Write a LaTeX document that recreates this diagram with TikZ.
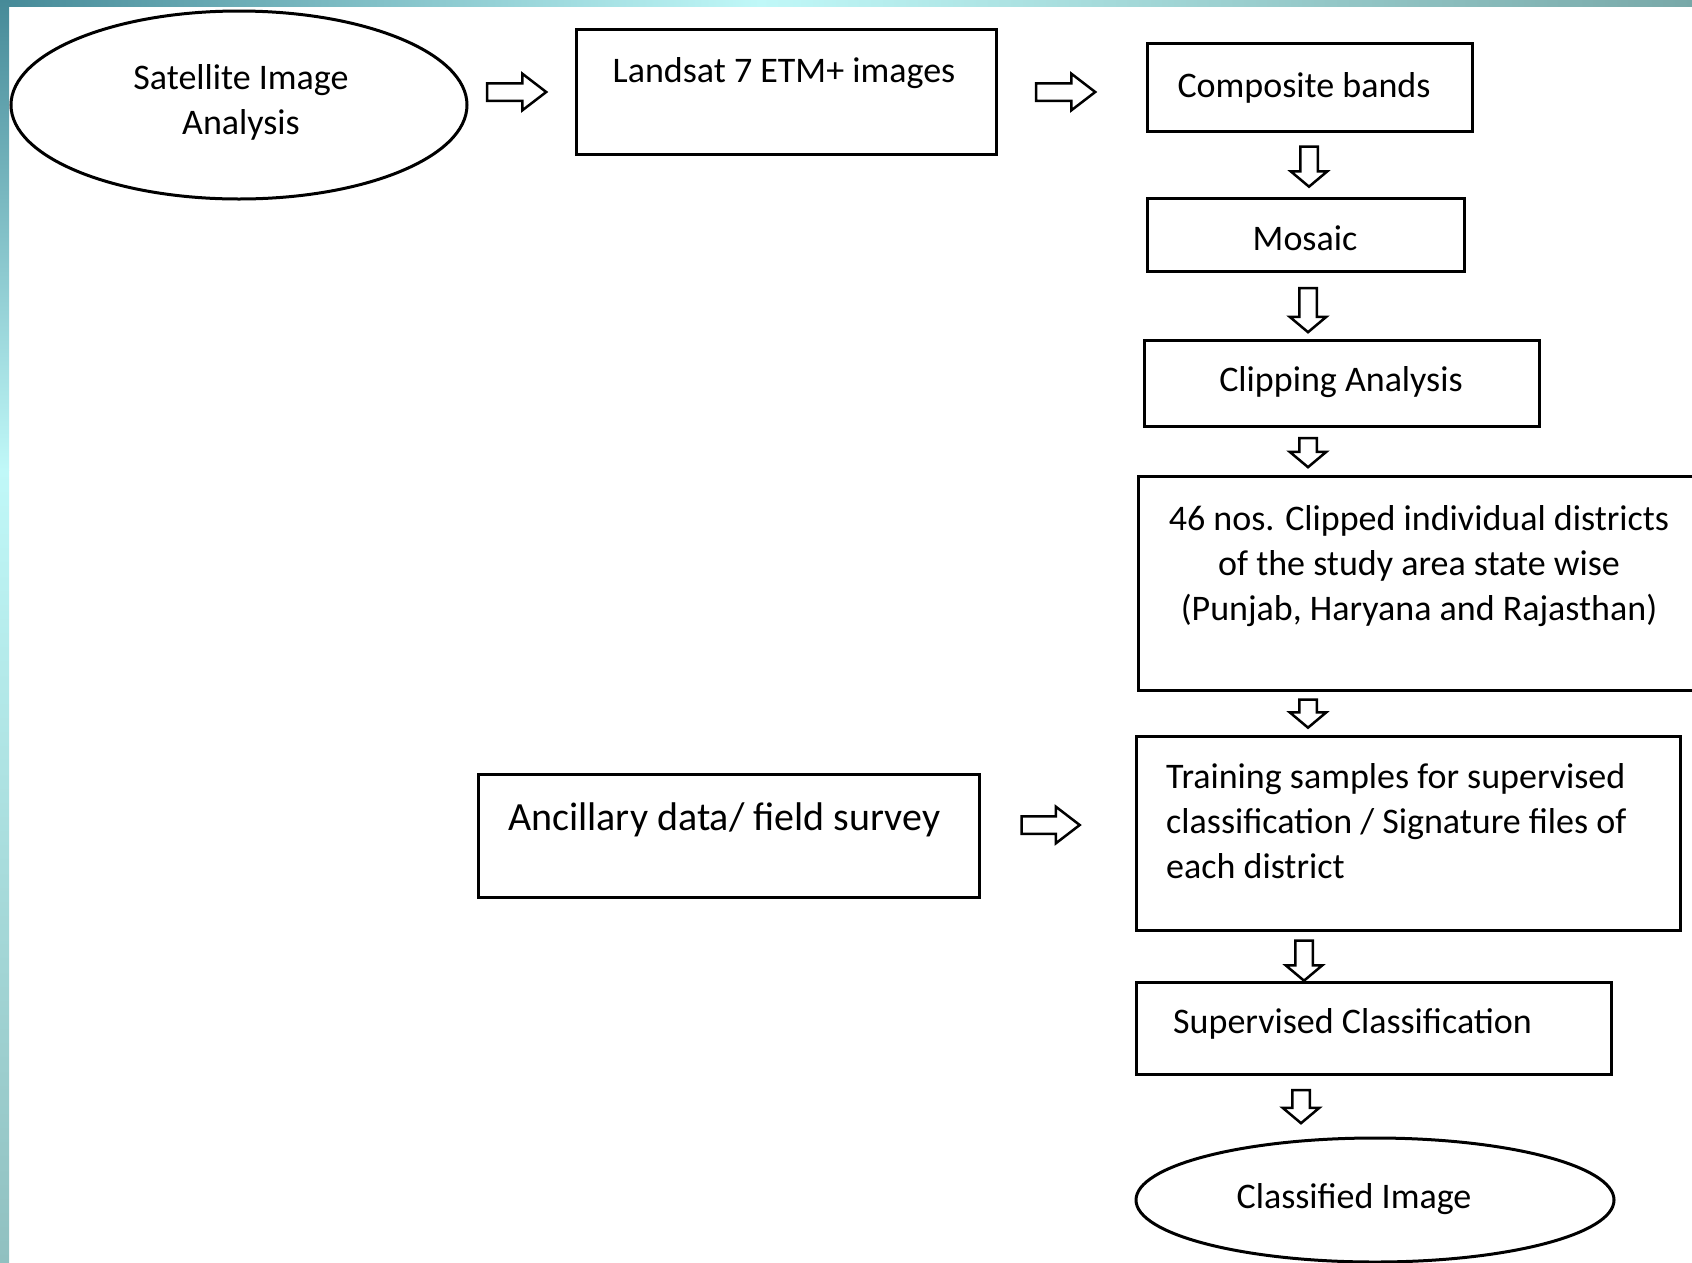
\documentclass[tikz,border=0pt]{standalone}
\usepackage{fontspec}
\setmainfont{Carlito}
\usetikzlibrary{shapes.geometric,shapes.arrows}
\definecolor{tealdark}{RGB}{70,138,152}
\definecolor{teallight}{RGB}{192,248,248}
\definecolor{tealgrey}{RGB}{120,168,168}
\definecolor{tealbottom}{RGB}{144,192,192}
\tikzset{
  box/.style={draw=black, line width=3pt, rectangle, inner sep=0pt},
  oval/.style={draw=black, line width=3pt, ellipse, inner sep=0pt},
  txt/.style={inner sep=0pt, font=\fontsize{36}{45}\selectfont, text=black},
  bigtxt/.style={inner sep=0pt, font=\fontsize{40}{48}\selectfont, text=black},
  harrow/.style={single arrow, draw=black, fill=white, line width=2.5pt,
    minimum height=#1, minimum width=34pt, inner sep=7.5pt,
    single arrow head extend=9.5pt, single arrow tip angle=75},
  varrow/.style={harrow=#1, rotate=-90, single arrow tip angle=100}
}
\begin{document}
\begin{tikzpicture}[x=1pt,y=-1pt]
\clip (0,0) rectangle (1692,1262);
\fill[white] (0,0) rectangle (1692,1262);
% background strips
\shade[left color=tealdark, right color=teallight] (0,0) rectangle (760,6);
\shade[left color=teallight, right color=tealgrey] (760,0) rectangle (1692,6);
\shade[top color=tealdark, bottom color=teallight] (0,0) rectangle (9,470);
\shade[top color=teallight, bottom color=tealbottom] (0,470) rectangle (9,1262);

% nodes
\node[oval, minimum width=456pt, minimum height=188pt] (sat) at (239,105) {};
\node[txt, align=center] (satt) at (241,102) {Satellite Image\\Analysis};

\node[box, minimum width=420pt, minimum height=125pt] (land) at (786,91.5) {};
\node[txt] (landt) at (784,73) {Landsat 7 ETM+ images};

\node[box, minimum width=325pt, minimum height=88pt] (comp) at (1309.5,87) {};
\node[txt] (compt) at (1304,88) {Composite bands};

\node[box, minimum width=317pt, minimum height=72.5pt] (mos) at (1305.5,235) {};
\node[txt] (most) at (1305,238) {Mosaic};

\node[box, minimum width=395pt, minimum height=86pt] (clip) at (1341.5,383) {};
\node[txt] (clipt) at (1341,382) {Clipping Analysis};

\node[box, minimum width=562pt, minimum height=214pt] (nos) at (1419,583) {};
\node[txt, align=center] (nost) at (1419,566) {46 nos. Clipped individual districts\\of the study area state wise\\(Punjab, Haryana and Rajasthan)};

\node[box, minimum width=544pt, minimum height=194pt] (train) at (1408,833) {};
\node[txt, align=left, anchor=west] (traint) at (1166,821) {Training samples for supervised\\classification / Signature files of\\each district};

\node[box, minimum width=475pt, minimum height=92pt] (sup) at (1373.5,1028) {};
\node[txt, anchor=west] (supt) at (1173,1024) {Supervised Classification};

\node[oval, minimum width=478pt, minimum height=124pt] (cls) at (1375,1200) {};
\node[txt] (clst) at (1354,1199) {Classified Image};

\node[box, minimum width=501pt, minimum height=123pt] (anc) at (728.5,835.5) {};
\node[bigtxt, anchor=west] (anct) at (508,820) {Ancillary data/ field survey};

% block arrows
\node[harrow=59pt] (a1) at (511,92) {};
\node[harrow=59pt] (a2) at (1060,92) {};
\node[harrow=58pt] (a3) at (1045,825) {};
\node[varrow=40pt] (d1) at (1309,163) {};
\node[varrow=44pt] (d2) at (1308,306.5) {};
\node[varrow=29pt] (d3) at (1308,449) {};
\node[varrow=28pt] (d4) at (1308,710) {};
\node[varrow=40pt] (d5) at (1304,957) {};
\node[varrow=33pt] (d6) at (1301,1103) {};
\end{tikzpicture}
\end{document}
